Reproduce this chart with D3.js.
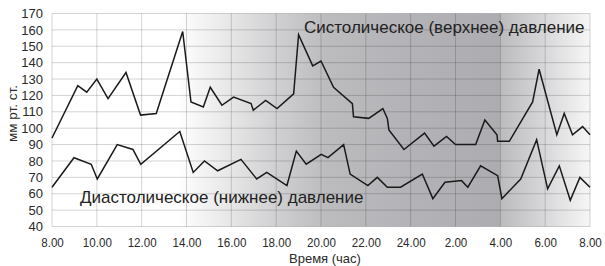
<!DOCTYPE html>
<html>
<head>
<meta charset="utf-8">
<script src="https://cdn.jsdelivr.net/npm/d3@7"></script>
<style>
  body { margin: 0; background: #fff; }
  svg { display: block; font-family: "Liberation Sans", Arial, sans-serif; }
</style>
</head>
<body>
<div id="divChart"></div>
<script>
// heures depuis minuit du 1er jour (au-dela de 24 = le lendemain)
var systolicTime = [8.0, 9.15, 9.55, 10.0, 10.5, 11.3, 11.95, 12.65, 13.83, 14.2, 14.75, 15.06, 15.58, 16.1, 16.88, 16.98, 17.53, 18.04, 18.78, 19.0, 19.63, 20.0, 20.56, 21.4, 21.45, 22.13, 22.76, 22.96, 23.03, 23.7, 24.62, 25.04, 25.6, 26.0, 26.9, 27.31, 27.85, 27.88, 28.4, 29.44, 29.73, 30.52, 30.85, 31.22, 31.67, 32.0];
var systolicValue = [94, 126, 122, 130, 118, 134, 108, 109, 159, 116, 113, 125, 114, 119, 115, 111, 117, 112, 121, 157, 138, 141, 125, 115, 107, 106, 112, 106, 99, 87, 97, 89, 95, 90, 90, 105, 96, 92, 92, 116, 136, 96, 109, 96, 101, 96];

var diastolicTime = [8.0, 8.98, 9.75, 10.02, 10.91, 11.61, 11.96, 13.7, 14.3, 14.8, 15.39, 16.43, 17.13, 17.58, 18.48, 18.9, 19.34, 20.01, 20.31, 21.01, 21.3, 22.09, 22.51, 22.96, 23.55, 24.52, 24.99, 25.53, 26.27, 26.55, 27.12, 27.88, 28.07, 28.91, 29.62, 30.11, 30.63, 31.12, 31.55, 32.0];
var diastolicValue = [64, 82, 78, 69, 90, 87, 78, 98, 73, 80, 74, 81, 69, 73, 65, 86, 78, 84, 82, 90, 72, 65, 70, 64, 64, 72, 57, 67, 68, 64, 77, 71, 57, 69, 93, 63, 77, 56, 70, 64];

var xTicks = [8, 10, 12, 14, 16, 18, 20, 22, 24, 26, 28, 30, 32];
var xTickLabels = ["8.00", "10.00", "12.00", "14.00", "16.00", "18.00", "20.00", "22.00", "24.00", "2.00", "4.00", "6.00", "8.00"];
var yTicks = [40, 50, 60, 70, 80, 90, 100, 110, 120, 130, 140, 150, 160, 170];

var seriesLabels = ["Систолическое (верхнее) давление", "Диастолическое (нижнее) давление"];
var xTitle = "Время (час)";
var yTitle = "мм рт. ст.";

var W = 605, H = 266;
var margin = {top: 13.5, right: 15, bottom: 39.5, left: 52};

var svg = d3.select("#divChart").append("svg")
  .attr("width", W)
  .attr("height", H);

var x = d3.scaleLinear().domain([8, 32]).range([margin.left, W - margin.right]);
var y = d3.scaleLinear().domain([40, 170]).range([H - margin.bottom, margin.top]);

// fond degrade : blanc le jour, gris la nuit
var grad = svg.append("defs").append("linearGradient")
  .attr("id", "nightGrad")
  .attr("gradientUnits", "userSpaceOnUse")
  .attr("x1", x(8)).attr("x2", x(32))
  .attr("y1", 0).attr("y2", 0);

var stops = [
  [13.6, "#ffffff"], [16.0, "#e6e6e7"], [18.0, "#d0d0d2"], [20.2, "#bcbcbf"],
  [24.0, "#b3b3b7"], [27.95, "#adadb1"], [28.05, "#bcbcbf"], [30.0, "#d8d8da"],
  [32.0, "#f6f6f6"]
];
grad.selectAll("stop").data(stops).enter().append("stop")
  .attr("offset", function(d){ return (d[0] - 8) / 24; })
  .attr("stop-color", function(d){ return d[1]; });

svg.append("rect")
  .attr("x", x(8)).attr("y", y(170))
  .attr("width", x(32) - x(8))
  .attr("height", y(40) - y(170))
  .attr("fill", "url(#nightGrad)");

// grille
var grid = svg.append("g").attr("class", "grid")
  .attr("stroke", "#000").attr("stroke-opacity", 0.17).attr("stroke-width", 1);

grid.selectAll("line.h").data(yTicks).enter().append("line")
  .attr("x1", x(8)).attr("x2", x(32))
  .attr("y1", function(d){ return y(d); }).attr("y2", function(d){ return y(d); });

grid.selectAll("line.v").data(xTicks).enter().append("line")
  .attr("y1", y(170)).attr("y2", y(40))
  .attr("x1", function(d){ return x(d); }).attr("x2", function(d){ return x(d); });

// axes
var yAxis = d3.axisLeft(y).tickValues(yTicks).tickSize(0).tickPadding(9);
svg.append("g")
  .attr("transform", "translate(" + margin.left + ",0)")
  .call(yAxis)
  .call(function(g){ g.select(".domain").remove(); })
  .selectAll("text")
  .attr("font-size", "13px")
  .attr("fill", "#2a2a2a");

var xAxis = d3.axisBottom(x).tickValues(xTicks).tickSize(0).tickPadding(11)
  .tickFormat(function(d, i){ return xTickLabels[i]; });
svg.append("g")
  .attr("transform", "translate(0," + y(40) + ")")
  .call(xAxis)
  .call(function(g){ g.select(".domain").remove(); })
  .selectAll("text")
  .attr("font-size", "13.5px")
  .attr("fill", "#2a2a2a")
  .attr("transform", "scale(0.86,1)");

svg.selectAll(".tick text").attr("font-family", "\"Liberation Sans\", Arial, sans-serif");

// titres des axes
svg.append("text")
  .attr("x", (x(8) + x(32)) / 2 + 4)
  .attr("y", 262.5)
  .attr("text-anchor", "middle")
  .attr("font-size", "13px")
  .attr("fill", "#2a2a2a")
  .text(xTitle);

svg.append("text")
  .attr("transform", "translate(17,113.5) rotate(-90)")
  .attr("text-anchor", "middle")
  .attr("font-size", "13.5px")
  .attr("fill", "#2a2a2a")
  .text(yTitle);

// courbes
var line = d3.line()
  .x(function(d){ return x(d[0]); })
  .y(function(d){ return y(d[1]); });

var series = [d3.zip(systolicTime, systolicValue), d3.zip(diastolicTime, diastolicValue)];

svg.selectAll("path.serie").data(series).enter().append("path")
  .attr("class", "serie")
  .attr("d", line)
  .attr("fill", "none")
  .attr("stroke", "#1a1a1a")
  .attr("stroke-width", 1.5)
  .attr("stroke-linejoin", "miter");

// libelles des series
svg.append("text")
  .attr("x", 304).attr("y", 33)
  .attr("font-size", "17px")
  .attr("fill", "#222")
  .text(seriesLabels[0]);

svg.append("text")
  .attr("x", 80).attr("y", 202.5)
  .attr("font-size", "17px")
  .attr("fill", "#222")
  .text(seriesLabels[1]);
</script>
</body>
</html>
